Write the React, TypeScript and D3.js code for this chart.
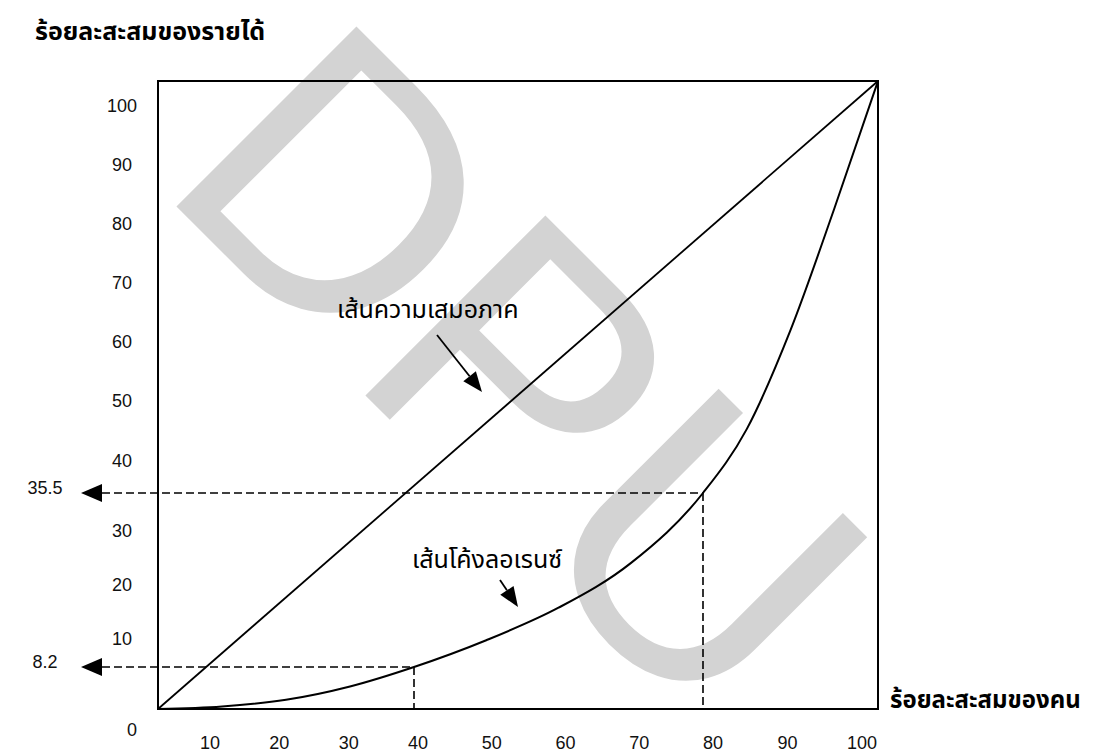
import React, { useEffect, useRef } from 'react';
import * as d3 from 'd3';

// ข้อมูลเส้นโค้งลอเรนซ์ (ร้อยละสะสมของคน, ร้อยละสะสมของรายได้)
const lorenzX = [0, 10, 20, 30, 40, 50, 60, 70, 80, 85, 90, 95, 100];
const lorenzY = [0, 0.5, 1.8, 4.4, 8.2, 12.4, 17.5, 24.5, 35.5, 45.5, 61, 80, 100];
const equalityX = [0, 100];
const equalityY = [0, 100];

const xTicks = [10, 20, 30, 40, 50, 60, 70, 80, 90, 100];
const yTicks = [10, 20, 30, 40, 50, 60, 70, 80, 90, 100];

// จุดที่อ่านค่า
const markX = [40, 80];
const markY = [8.2, 35.5];
const markLabels = ['8.2', '35.5'];

const yTitle = 'ร้อยละสะสมของรายได้';
const xTitle = 'ร้อยละสะสมของคน';
const equalityLabel = 'เส้นความเสมอภาค';
const lorenzLabel = 'เส้นโค้งลอเรนซ์';

const thaiFont = "'Noto Sans Thai', 'Loma', 'Garuda', 'Tlwg Typo', 'DejaVu Sans', sans-serif";
const numFont = "'Liberation Sans', Arial, sans-serif";

export default function App() {
  const svgRef = useRef<SVGSVGElement>(null);

  useEffect(() => {
    if (!svgRef.current) return;
    const svg = d3.select(svgRef.current);
    svg.selectAll('*').remove();

    const width = 1099;
    const height = 753;
    svg.attr('width', width).attr('height', height);

    // ภาพวาดด้วยมือ จึงใช้สเกลแบบหลายช่วง
    const x = d3.scaleLinear().domain([0, 40, 80, 100]).range([158, 414, 703, 878]);
    const y = d3.scaleLinear().domain([0, 8.2, 35.5, 100]).range([709, 667, 493, 81]);
    const xLab = d3.scaleLinear().domain([10, 40, 80, 100]).range([210, 418, 713, 862]);
    const yLab = d3.scaleLinear().domain([10, 30, 40, 100]).range([638, 530, 460, 105]);

    // ลายน้ำ
    svg.append('text')
      .attr('transform', 'translate(155,185) rotate(45)')
      .attr('font-family', numFont)
      .attr('font-size', 370)
      .attr('fill', '#d3d3d3')
      .text('DPU');

    // กรอบ
    svg.append('rect')
      .attr('x', x(0)).attr('y', y(100))
      .attr('width', x(100) - x(0)).attr('height', y(0) - y(100))
      .attr('fill', 'none').attr('stroke', '#000').attr('stroke-width', 2);

    const line = d3.line<number>().x((d, i) => x(equalityX[i])).y((d) => y(d));
    svg.append('path')
      .attr('d', line(equalityY))
      .attr('fill', 'none').attr('stroke', '#000').attr('stroke-width', 1.8);

    const curve = d3.line<number>()
      .x((d, i) => x(lorenzX[i]))
      .y((d) => y(d))
      .curve(d3.curveMonotoneX);
    svg.append('path')
      .attr('d', curve(lorenzY))
      .attr('fill', 'none').attr('stroke', '#000').attr('stroke-width', 2);

    // เส้นประและลูกศร
    const tipX = 81;
    const baseX = 102;
    markX.forEach((mx, i) => {
      const py = y(markY[i]);
      svg.append('line')
        .attr('x1', baseX).attr('x2', x(mx)).attr('y1', py).attr('y2', py)
        .attr('stroke', '#000').attr('stroke-width', 1.6).attr('stroke-dasharray', '8,4');
      svg.append('line')
        .attr('x1', x(mx)).attr('x2', x(mx)).attr('y1', py).attr('y2', y(0))
        .attr('stroke', '#000').attr('stroke-width', 1.6).attr('stroke-dasharray', '8,4');
      svg.append('path')
        .attr('d', `M${tipX},${py}L${baseX},${py - 9}L${baseX},${py + 9}Z`)
        .attr('fill', '#000');
      svg.append('text')
        .attr('x', 45).attr('y', py + 1)
        .attr('text-anchor', 'middle')
        .attr('font-family', numFont).attr('font-size', 18).attr('fill', '#111')
        .text(markLabels[i]);
    });

    // ป้ายแกน
    svg.append('g').selectAll('text').data(xTicks).join('text')
      .attr('x', (d) => xLab(d)).attr('y', 749)
      .attr('text-anchor', 'middle')
      .attr('font-family', numFont).attr('font-size', 18).attr('fill', '#111')
      .text((d) => d);
    svg.append('g').selectAll('text').data(yTicks).join('text')
      .attr('x', 122).attr('y', (d) => yLab(d) + 6.5)
      .attr('text-anchor', 'middle')
      .attr('font-family', numFont).attr('font-size', 18).attr('fill', '#111')
      .text((d) => d);
    svg.append('text')
      .attr('x', 132).attr('y', 736)
      .attr('text-anchor', 'middle')
      .attr('font-family', numFont).attr('font-size', 18).attr('fill', '#111')
      .text(0);

    svg.append('text')
      .attr('x', 35).attr('y', 40)
      .attr('font-family', thaiFont).attr('font-size', 25).attr('font-weight', 'bold')
      .text(yTitle);
    svg.append('text')
      .attr('x', 890).attr('y', 708)
      .attr('font-family', thaiFont).attr('font-size', 24).attr('font-weight', 'bold')
      .text(xTitle);

    // ป้ายคำอธิบายพร้อมลูกศร
    const arrow = (x1: number, y1: number, x2: number, y2: number) => {
      const dx = x2 - x1;
      const dy = y2 - y1;
      const len = Math.hypot(dx, dy);
      const ux = dx / len;
      const uy = dy / len;
      const bx = x2 - ux * 20;
      const by = y2 - uy * 20;
      svg.append('line')
        .attr('x1', x1).attr('y1', y1).attr('x2', bx).attr('y2', by)
        .attr('stroke', '#000').attr('stroke-width', 1.8);
      svg.append('path')
        .attr('d', `M${x2},${y2}L${bx - uy * 8},${by + ux * 8}L${bx + uy * 8},${by - ux * 8}Z`)
        .attr('fill', '#000');
    };

    svg.append('text')
      .attr('x', 337).attr('y', 318)
      .attr('font-family', thaiFont).attr('font-size', 25)
      .text(equalityLabel);
    arrow(437, 335, 482, 392);

    svg.append('text')
      .attr('x', 412).attr('y', 568)
      .attr('font-family', thaiFont).attr('font-size', 25)
      .text(lorenzLabel);
    arrow(500, 580, 518, 607);
  }, []);

  return (
    <svg ref={svgRef} style={{ position: 'absolute', left: 0, top: 0, background: '#fff' }} />
  );
}
